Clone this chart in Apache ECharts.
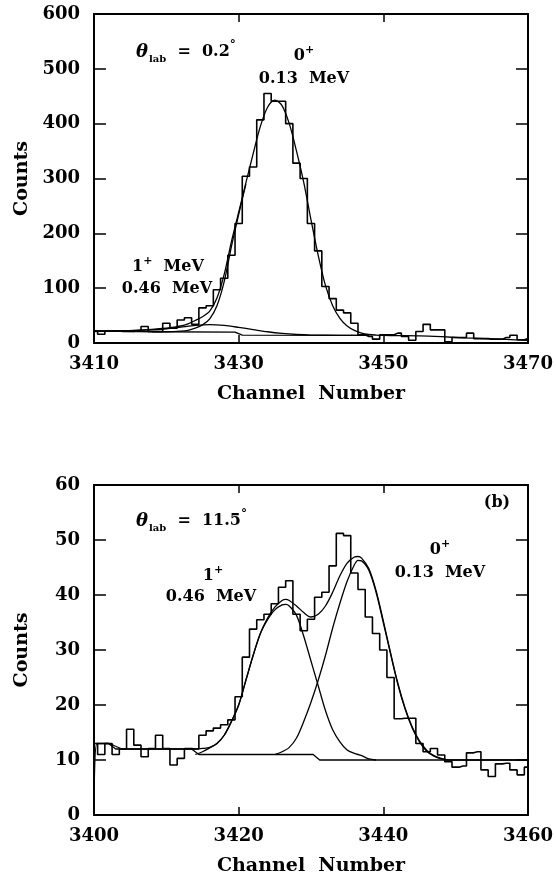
<!DOCTYPE html>
<html><head><meta charset="utf-8">
<script src="https://cdn.jsdelivr.net/npm/echarts@6/dist/echarts.min.js"></script>
<style>html,body{margin:0;padding:0;background:#fff}#c{width:556px;height:879px}</style>
</head><body><div id="c"></div><script>
// ---------- Panel (a): theta_lab = 0.2 deg ----------
const topStart = 3410;
const topCounts = [22,16,22,22,21,21,22,30,21,21, 36,27,42,46,34,64,68,97,118,160,
  218,304,321,407,455,441,441,400,328,300, 218,168,103,81,60,55,36,15,12,7,
  15,15,18,12,5,21,34,24,24,2, 10,10,18,8,8,7,7,10,14,6, 8];
const topFitX = [3410,3414,3418,3420,3421,3422,3423,3424,3425,3426,3427,3428,3429,3430,3431,3432,3433,3434,3435,3436,3437,3438,3439,3440,3441,3442,3443,3444,3445,3446,3447,3448,3449,3450,3452,3455,3458,3461,3464,3467,3470];
const topFitY = [22,22.5,25,27,29,31,35,41,48,58,82,125,185,238,292,345,395,430,443,433,400,350,293,225,160,105,68,45,31,23,18,15.5,14.5,14,13.5,13,11.5,9.5,8,6.5,5];
const topPeakX = [3418,3420,3422,3423,3424,3425,3426,3427,3428,3429,3430,3431];
const topPeakY = [20.5,20.5,21.5,23,27,33,44,68,112,176,234,290];
const topBumpX = [3410,3414,3418,3420,3422,3424,3426,3428,3430,3432,3434,3436,3438,3440,3444,3448];
const topBumpY = [21,22,24,26,29,32,33.5,32,28.5,24.5,20.5,17.5,15.5,14.5,14,14];
const topBgX = [3410,3418,3429.5,3430.5,3448];
const topBgY = [22,20.5,20,14.5,14];
const topXTicks = [3410,3470,20];
const topYTicks = [0,600,100];

// ---------- Panel (b): theta_lab = 11.5 deg ----------
const botStart = 3400;
const botCounts = [13,11,13,11,12,15.6,12.7,10.6,12.1,14.5, 12.1,9.1,10.3,12.1,12,14.5,15.3,15.8,16.4,17.3,
  21.5,28.7,33.8,35.5,36.5,38.4,41.4,42.6,36.5,33.5, 35.6,39.6,40.5,45.3,51.2,50.8,44,41,36,33,
  30,25,17.5,17.6,17.6,13,11.5,12.1,10.9,9.7, 8.7,8.9,11.3,11.5,8.2,7,9.3,9.4,8.2,7.3, 8.7];
const botFitX = [3400,3400.4,3402,3403,3404,3414,3415,3416,3417,3418,3419,3420,3421,3422,3423,3424,3425,3426,3426.5,3427,3428,3429,3430,3431,3432,3433,3434,3435,3436,3436.5,3437,3438,3439,3440,3441,3442,3443,3444,3445,3446,3447,3448,3449,3460];
const botFitY = [0,13,13,12.5,12,12,12.1,12.3,13,14.5,17,20,24.5,29,33,35.8,37.8,39,39.2,39,38,36.8,36,36.5,38,40.5,43.5,45.8,46.9,47,46.7,44.8,40.8,35.3,29.5,24,19.5,16,13.5,11.8,10.8,10.3,10,10];
const bot1X = [3414,3415,3416,3417,3418,3419,3420,3421,3422,3423,3424,3425,3426,3426.5,3427,3428,3429,3430,3431,3432,3433,3434,3435,3436,3437,3438,3439];
const bot1Y = [11,11.5,12.2,13,14.5,17,20,24.5,29,33,35.5,37.3,38.2,38.3,38,36.3,32.5,28,23.5,19,15.5,13.3,11.8,11.2,10.8,10.2,10];
const bot0X = [3425,3426,3427,3428,3429,3430,3431,3432,3433,3434,3435,3436,3436.5,3437,3438,3439,3440,3441,3442,3443,3444,3445,3446,3447,3448,3449];
const bot0Y = [11,11.5,12.3,14,17,20.5,24.5,29,34,38.5,42.5,45.5,46.3,46.2,44.5,40.5,35,29.3,23.8,19.3,15.8,13.3,11.6,10.7,10.2,10];
const botBgX = [3400.4,3402,3403,3413.5,3414.5,3430.3,3431.2,3460];
const botBgY = [13,13,12,12,11,11,10,10];
const botXTicks = [3400,3460,20];
const botYTicks = [0,60,10];

// ---------- helpers ----------
const FONT = 'DejaVu Serif';
const hist = (start, counts) => counts.map((v, i) => [start + i, v]);
const pairs = (xs, ys) => xs.map((x, i) => [x, ys[i]]);
const lineAx = { show: true, onZero: false, lineStyle: { color: '#000', width: 2 } };
const lbl = { color: '#000', fontFamily: FONT, fontWeight: 'bold', fontSize: 18, formatter: v => String(v) };
const nameStyle = { color: '#000', fontFamily: FONT, fontWeight: 'bold', fontSize: 19 };

function xAxis(g, t, pos) {
  return {
    type: 'value', gridIndex: g, position: pos, min: t[0], max: t[1], interval: t[2],
    axisLine: lineAx, splitLine: { show: false },
    axisTick: { show: true, inside: true, length: 8, lineStyle: { color: '#000', width: 1.5 } },
    axisLabel: pos === 'bottom' ? Object.assign({ margin: 12 }, lbl) : { show: false },
    name: pos === 'bottom' ? 'Channel  Number' : '', nameLocation: 'middle', nameGap: 42,
    nameTextStyle: nameStyle
  };
}
function yAxis(g, t, pos) {
  return {
    type: 'value', gridIndex: g, position: pos, min: t[0], max: t[1], interval: t[2],
    axisLine: lineAx, splitLine: { show: false },
    axisTick: { show: true, inside: true, length: 12, lineStyle: { color: '#000', width: 1.5 } },
    axisLabel: pos === 'left' ? Object.assign({ margin: 14 }, lbl) : { show: false },
    name: pos === 'left' ? 'Counts' : '', nameLocation: 'middle', nameGap: 62,
    nameTextStyle: nameStyle
  };
}
function histSeries(xi, yi, data) {
  return { type: 'line', xAxisIndex: xi, yAxisIndex: yi, data, step: 'middle', showSymbol: false,
    lineStyle: { color: '#000', width: 1.6 }, silent: true, z: 3 };
}
function curve(xi, yi, data, smooth) {
  return { type: 'line', xAxisIndex: xi, yAxisIndex: yi, data, smooth: smooth ? 0.3 : false,
    showSymbol: false, lineStyle: { color: '#000', width: 1.3 }, silent: true, z: 4 };
}

const rich = {
  t: { fontFamily: FONT, fontWeight: 'bold', fontStyle: 'italic', fontSize: 18, lineHeight: 24 },
  s: { fontFamily: FONT, fontWeight: 'bold', fontSize: 10, verticalAlign: 'bottom', lineHeight: 24, padding: [0, 0, 0, 1] },
  n: { fontFamily: FONT, fontWeight: 'bold', fontSize: 16, lineHeight: 24 },
  d: { fontFamily: FONT, fontWeight: 'bold', fontSize: 12, verticalAlign: 'top', lineHeight: 24 },
  p: { fontFamily: FONT, fontWeight: 'bold', fontSize: 11, verticalAlign: 'top', lineHeight: 22 },
  m: { fontFamily: FONT, fontWeight: 'bold', fontSize: 16, lineHeight: 22 }
};
function txt(x, y, text, align) {
  return { type: 'text', x, y, silent: true,
    style: { text, rich, fill: '#000', align: align || 'center', verticalAlign: 'middle' } };
}

const chart = echarts.init(document.getElementById('c'), null, { renderer: 'canvas' });
chart.setOption({
  animation: false,
  backgroundColor: '#fff',
  grid: [
    { left: 94, top: 14, width: 437, height: 329 },
    { left: 94, top: 485, width: 437, height: 330 }
  ],
  xAxis: [xAxis(0, topXTicks, 'bottom'), xAxis(0, topXTicks, 'top'),
          xAxis(1, botXTicks, 'bottom'), xAxis(1, botXTicks, 'top')],
  yAxis: [yAxis(0, topYTicks, 'left'), yAxis(0, topYTicks, 'right'),
          yAxis(1, botYTicks, 'left'), yAxis(1, botYTicks, 'right')],
  series: [
    histSeries(0, 0, hist(topStart, topCounts)),
    curve(0, 0, pairs(topFitX, topFitY), true),
    curve(0, 0, pairs(topPeakX, topPeakY), true),
    curve(0, 0, pairs(topBumpX, topBumpY), true),
    curve(0, 0, pairs(topBgX, topBgY), false),
    histSeries(2, 2, hist(botStart, botCounts)),
    curve(2, 2, pairs(botFitX, botFitY), true),
    curve(2, 2, pairs(bot1X, bot1Y), true),
    curve(2, 2, pairs(bot0X, bot0Y), true),
    curve(2, 2, pairs(botBgX, botBgY), false)
  ],
  graphic: [
    txt(136, 52, '{t|θ}{s|lab}{n|  =  0.2}{d|°}', 'left'),
    txt(304, 56, '{m|0}{p|+}'),
    txt(304, 79, '{m|0.13  MeV}'),
    txt(168, 267, '{m|1}{p|+}{m|  MeV}'),
    txt(167, 289, '{m|0.46  MeV}'),
    txt(136, 521, '{t|θ}{s|lab}{n|  =  11.5}{d|°}', 'left'),
    txt(497, 503, '{m|(b)}'),
    txt(440, 550, '{m|0}{p|+}'),
    txt(440, 573, '{m|0.13  MeV}'),
    txt(213, 576, '{m|1}{p|+}'),
    txt(211, 597, '{m|0.46  MeV}')
  ]
});
</script></body></html>
